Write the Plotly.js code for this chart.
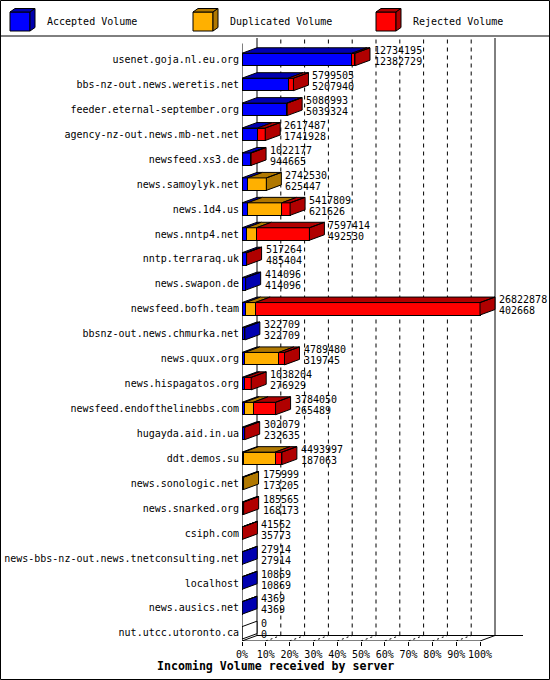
<!DOCTYPE html>
<html><head><meta charset="utf-8">
<script src="https://cdn.plot.ly/plotly-3.0.1.min.js"></script>
<style>html,body{margin:0;padding:0;background:#fff}</style>
</head><body><div id="chart" style="width:550px;height:680px"></div>
<script>
const servers = ['usenet.goja.nl.eu.org','bbs-nz-out.news.weretis.net','feeder.eternal-september.org','agency-nz-out.news.mb-net.net','newsfeed.xs3.de','news.samoylyk.net','news.1d4.us','news.nntp4.net','nntp.terraraq.uk','news.swapon.de','newsfeed.bofh.team','bbsnz-out.news.chmurka.net','news.quux.org','news.hispagatos.org','newsfeed.endofthelinebbs.com','hugayda.aid.in.ua','ddt.demos.su','news.sonologic.net','news.snarked.org','csiph.com','news-bbs-nz-out.news.tnetconsulting.net','localhost','news.ausics.net','nut.utcc.utoronto.ca'];
const totals = [12734195,5799505,5086993,2617487,1022177,2742530,5417809,7597414,517264,414096,26822878,322709,4789480,1038204,3784050,302079,4493997,175999,185565,41562,27914,10869,4369,0];
const accepted = [12382729,5207940,5039324,1741928,944665,625447,621626,492530,485404,414096,402668,322709,319745,276929,265489,232635,187063,173205,168173,35773,27914,10869,4369,0];
const duplicated = [0,0,0,0,0,2117083,3850000,1130000,0,0,1080000,0,3830000,0,1000000,0,3550000,2794,0,0,0,0,0,0];
const rejected = [351466,591565,47669,875559,77512,0,946183,5974884,31860,0,25340210,0,639735,761275,2518561,69444,756934,0,17392,5789,0,0,0,0];
const seriesNames = ['Accepted Volume','Duplicated Volume','Rejected Volume'];
const frontColors = ['#0000ff','#ffb000','#ff0000'];
const darkColors = ['#0000b0','#b07800','#b00000'];
const tickPercents = [0,10,20,30,40,50,60,70,80,90,100];
const axisTitle = 'Incoming Volume received by server';

// ---- geometry (pixels) ----
const L=242, R=523, T=38, B=641;
const PX_PER_PCT = 2.38;
const XMAX = (R-L)/PX_PER_PCT;
const ROW0 = 59.5, ROWH = 24.93;
const idx = p => (p-ROW0)/ROWH;
const DX = 15/PX_PER_PCT, DY = -5.5/ROWH, HB = 0.25;
const px2x = p => (p-L)/(R-L), px2y = p => (B-p)/(B-T);
const FONT = 'DejaVu Sans Mono';

const maxTotal = Math.max(...totals);
const pct = v => v/maxTotal*100;
const rows = servers.map((s,i)=>i);
const series = [accepted, duplicated, rejected];

const traces = series.map((arr,k)=>({
  type:'bar', orientation:'h', y:rows, x:arr.map(pct), width:2*HB, name:seriesNames[k],
  marker:{color:frontColors[k], line:{color:'#000', width:1}}, hoverinfo:'skip', showlegend:false
}));

// 3D top and side faces
const fx=[[],[],[],[]], fy=[[],[],[],[]];
function poly(c, pts){
  pts.forEach(p=>{fx[c].push(p[0]); fy[c].push(p[1]);});
  fx[c].push(pts[0][0]); fy[c].push(pts[0][1]);
  fx[c].push(null); fy[c].push(null);
}
rows.forEach(i=>{
  let x0=0, last=3;
  const yT=i-HB, yB=i+HB;
  series.forEach((arr,k)=>{
    const w=pct(arr[i]);
    if(w>0){ const x1=x0+w; poly(k,[[x0,yT],[x1,yT],[x1+DX,yT+DY],[x0+DX,yT+DY]]); x0=x1; last=k; }
  });
  poly(last,[[x0,yT],[x0,yB],[x0+DX,yB+DY],[x0+DX,yT+DY]]);
});
const faceFill = darkColors.concat(['#ffffff']);
faceFill.forEach((c,k)=>{
  traces.push({type:'scatter', mode:'lines', x:fx[k], y:fy[k], fill:'toself', fillcolor:c,
    line:{color:'#000', width:1}, hoverinfo:'skip', showlegend:false});
});

// value labels
const annotations = [];
rows.forEach(i=>{
  const xe = pct(totals[i]) + DX;
  annotations.push({x:xe, y:i, xref:'x', yref:'y', text:String(totals[i]), showarrow:false,
    xanchor:'left', yanchor:'middle', xshift:2, yshift:9, font:{family:FONT, size:10, color:'#000'}});
  annotations.push({x:xe, y:i, xref:'x', yref:'y', text:String(accepted[i]), showarrow:false,
    xanchor:'left', yanchor:'middle', xshift:2, yshift:-2, font:{family:FONT, size:10, color:'#000'}});
});
// axis title
annotations.push({x:px2x(275), y:px2y(666), xref:'paper', yref:'paper', text:'<b>'+axisTitle+'</b>',
  showarrow:false, xanchor:'center', yanchor:'middle', font:{family:FONT, size:11.6, color:'#000'}});

// frame shapes
const shapes = [];
const yBack = idx(B)+DY, yTop = idx(T), yFront = idx(B);
const line = (x0,y0,x1,y1,extra)=>Object.assign({type:'line', xref:'x', yref:'y', x0, y0, x1, y1,
  line:{color:'#000', width:1}}, extra||{});
tickPercents.slice(1,10).forEach(p=>{
  shapes.push(line(p+DX, yBack, p+DX, yTop, {layer:'below', line:{color:'#000', width:1, dash:'4px,4px'}}));
  shapes.push(line(p, yFront, p+DX, yBack, {layer:'below', line:{color:'#000', width:1, dash:'2px,3px'}}));
});
shapes.push(line(DX, yBack, DX, yTop, {layer:'below'}));
shapes.push(line(100+DX, yBack, 100+DX, yTop, {layer:'below'}));
shapes.push(line(DX, yBack, XMAX, yBack, {layer:'below'}));
shapes.push(line(0, yFront, 100, yFront));
shapes.push(line(0, yFront, DX, yBack));
shapes.push(line(100, yFront, 100+DX, yBack));
shapes.push(line(0, yFront, 0, yTop-DY));

// outer border and legend separator
shapes.push({type:'rect', xref:'paper', yref:'paper', x0:px2x(0.5), x1:px2x(549.5), y0:px2y(679.5), y1:px2y(0.5),
  line:{color:'#000', width:1}});
shapes.push({type:'line', xref:'paper', yref:'paper', x0:px2x(0), x1:px2x(550), y0:px2y(36), y1:px2y(36),
  line:{color:'#000', width:1}});

// legend cubes
const P = (x,y)=>px2x(x)+','+px2y(y);
seriesNames.forEach((n,k)=>{
  const x0 = 10+183*k, y0=12, w=20, h=19, dx=5, dy=-3.5;
  shapes.push({type:'path', xref:'paper', yref:'paper', fillcolor:frontColors[k], line:{color:'#000', width:1},
    path:'M'+P(x0,y0)+'L'+P(x0+w,y0)+'L'+P(x0+w,y0+h)+'L'+P(x0,y0+h)+'Z'});
  shapes.push({type:'path', xref:'paper', yref:'paper', fillcolor:darkColors[k], line:{color:'#000', width:1},
    path:'M'+P(x0,y0)+'L'+P(x0+w,y0)+'L'+P(x0+w+dx,y0+dy)+'L'+P(x0+dx,y0+dy)+'Z'});
  shapes.push({type:'path', xref:'paper', yref:'paper', fillcolor:darkColors[k], line:{color:'#000', width:1},
    path:'M'+P(x0+w,y0)+'L'+P(x0+w,y0+h)+'L'+P(x0+w+dx,y0+h+dy)+'L'+P(x0+w+dx,y0+dy)+'Z'});
  annotations.push({x:px2x(45+183*k), y:px2y(21), xref:'paper', yref:'paper', text:n, showarrow:false,
    xanchor:'left', yanchor:'middle', font:{family:FONT, size:10, color:'#000'}});
});

const layout = {
  width:550, height:680, paper_bgcolor:'#fff', plot_bgcolor:'rgba(0,0,0,0)',
  margin:{l:L, r:550-R, t:T, b:680-B, pad:0},
  barmode:'stack', showlegend:false,
  font:{family:FONT, size:10, color:'#000'},
  xaxis:{range:[0,XMAX], tickvals:tickPercents, ticktext:tickPercents.map(p=>p+'%'), ticks:'outside',
    ticklen:4, tickwidth:1, tickcolor:'#000', showgrid:false, zeroline:false, showline:false,
    tickfont:{family:FONT, size:10, color:'#000'}, fixedrange:true},
  yaxis:{range:[idx(B), idx(T)], tickvals:rows, ticktext:servers, ticks:'', showgrid:false, zeroline:false,
    showline:false, tickfont:{family:FONT, size:10, color:'#000'}, ticklabelstandoff:2, fixedrange:true},
  shapes, annotations
};
Plotly.newPlot('chart', traces, layout, {staticPlot:true, displayModeBar:false});
</script></body></html>
